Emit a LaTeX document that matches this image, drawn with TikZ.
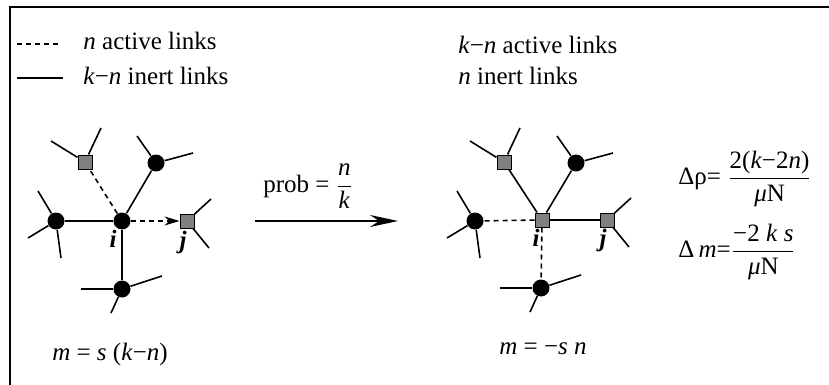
\documentclass[tikz,border=0pt]{standalone}
\usepackage{fontspec}
\setmainfont{Liberation Serif}
\usepackage{tikz}
\usetikzlibrary{positioning,arrows.meta}
\tikzset{
  x=0.5pt, y=-0.5pt,
  every node/.style={font=\fontsize{12.5}{14}\selectfont},
  dot/.style={circle, fill=black, inner sep=0pt, minimum size=8.5pt},
  sq/.style={draw=black, fill=gray, line width=0.5pt, inner sep=0pt, minimum size=7pt},
  link/.style={line width=0.8pt},
  act/.style={link, dash pattern=on 2.5pt off 2pt},
  stub/.style={line width=0.8pt},
  lbl/.style={font=\fontsize{12.5}{14}\selectfont\bfseries\itshape},
  txt/.style={anchor=base west, inner sep=0pt},
}
\newcommand{\vv}[1]{\textit{#1}}

\begin{document}
\begin{tikzpicture}
  \useasboundingbox (0,0) rectangle (829,385);
  % frame
  \draw[line width=1pt] (829,7) -- (10,7) -- (10,385);

  % legend
  \coordinate (la1) at (17,44);  \coordinate (la2) at (60,44);
  \coordinate (li1) at (17,78);  \coordinate (li2) at (63,78);
  \draw[act] (la1) -- (la2);
  \draw[link] (li1) -- (li2);
  \node[txt] (lacttxt) at (83,50) {\vv{n} active links};
  \node[txt] (linetxt) at (83,85) {\vv{k}−\vv{n} inert links};

  % left graph: before
  \node[dot] (i)  at (122,221) {};
  \node[sq]  (a)  at (85,162) {};
  \node[dot] (b)  at (156,163) {};
  \node[dot] (c)  at (56,221) {};
  \node[sq]  (j)  at (187,221) {};
  \node[dot] (d)  at (122,289) {};
  \draw[act] (i) -- (a);
  \draw[link] (i) -- (b);
  \draw[link] (i) -- (c);
  \draw[link] (i) -- (d);
  \draw[act, -{Stealth[length=7.5pt, width=4.5pt]}] (i) -- (j);
  \draw[stub] (a) -- ++(-34,-21); \draw[stub] (a) -- ++(16,-34);
  \draw[stub] (b) -- ++(-19,-27); \draw[stub] (b) -- ++(37,-10);
  \draw[stub] (c) -- ++(-18,-30); \draw[stub] (c) -- ++(-28,17); \draw[stub] (c) -- ++(5,37);
  \draw[stub] (j) -- ++(24,-22);  \draw[stub] (j) -- ++(22,27);
  \draw[stub] (d) -- ++(-41,0);   \draw[stub] (d) -- ++(40,-13);  \draw[stub] (d) -- ++(-11,24);
  \node[lbl] (ilab) at (113,239) {i};
  \node[lbl] (jlab) at (183,242) {j};
  \node[anchor=base] (mleft) at (110,360) {\vv{m} = \vv{s} (\vv{k}−\vv{n})};

  % transition arrow
  \coordinate (p1) at (255,221);
  \coordinate (p2) at (398,221);
  \draw[line width=0.8pt, -{Stealth[length=14pt, width=6pt]}] (p1) -- (p2);
  \node[txt] (prob) at (263,192) {prob = $\displaystyle\frac{\mbox{\vv{n}}}{\mbox{\vv{k}}}$};

  % right graph: after
  \node[sq]  (i2) at (542,220) {};
  \node[sq]  (a2) at (504,162) {};
  \node[dot] (b2) at (576,163) {};
  \node[dot] (c2) at (475,221) {};
  \node[sq]  (j2) at (607,220) {};
  \node[dot] (d2) at (541,288) {};
  \draw[link] (i2) -- (a2);
  \draw[link] (i2) -- (b2);
  \draw[act] (i2) -- (c2);
  \draw[act] (i2) -- (d2);
  \draw[link] (i2) -- (j2);
  \draw[stub] (a2) -- ++(-34,-21); \draw[stub] (a2) -- ++(16,-34);
  \draw[stub] (b2) -- ++(-19,-27); \draw[stub] (b2) -- ++(37,-10);
  \draw[stub] (c2) -- ++(-18,-30); \draw[stub] (c2) -- ++(-28,17); \draw[stub] (c2) -- ++(5,37);
  \draw[stub] (j2) -- ++(24,-22);  \draw[stub] (j2) -- ++(22,27);
  \draw[stub] (d2) -- ++(-41,0);   \draw[stub] (d2) -- ++(40,-13);  \draw[stub] (d2) -- ++(-11,24);
  \node[lbl] (ilab2) at (536,238) {i};
  \node[lbl] (jlab2) at (603,240) {j};
  \node[txt] (ractive) at (458,54) {\vv{k}−\vv{n} active links};
  \node[txt] (rinert) at (458,85) {\vv{n} inert links};
  \node[anchor=base] (mright) at (543,354) {\vv{m} = −\vv{s} \vv{n}};

  % changes
  \node[anchor=west, inner sep=0pt] (drho) at (678,179)
    {Δρ= $\displaystyle\frac{\mbox{2(\vv{k}−2\vv{n})}}{\mbox{\vv{μ}N}}$};
  \node[anchor=west, inner sep=0pt] (dm) at (678,252)
    {Δ\,\vv{m}=$\displaystyle\frac{\mbox{−2 \vv{k} \vv{s}}}{\mbox{\vv{μ}N}}$};
\end{tikzpicture}
\end{document}
